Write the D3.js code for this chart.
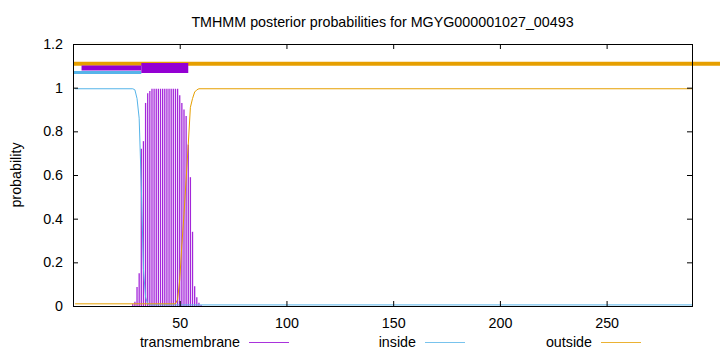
<!DOCTYPE html>
<html>
<head>
<meta charset="utf-8">
<script src="https://d3js.org/d3.v7.min.js"></script>
<style>
body { margin: 0; background: #fff; }
text { font-family: "Liberation Sans", Arial, sans-serif; font-size: 14.3px; fill: #000; }
</style>
</head>
<body>
<div id="chart"></div>
<script>
// residue positions / posterior values
var seqLen = 290;

var insideX = [1, 28, 29, 30, 31, 32, 33, 34, 35, 36, 290];
var insideY = [0.995, 0.995, 0.99, 0.95, 0.86, 0.55, 0.17, 0.04, 0.01, 0.005, 0.005];

var outsideX = [1, 48, 49, 50, 51, 52, 53, 54, 55, 56, 57, 58, 59, 290];
var outsideY = [0.01, 0.01, 0.03, 0.12, 0.28, 0.42, 0.58, 0.74, 0.91, 0.95, 0.98, 0.99, 0.995, 0.995];

var tmFirst = 28;
var tmY = [0.01, 0.02, 0.087, 0.15, 0.72, 0.755, 0.93, 0.975, 0.985,
           0.995, 0.995, 0.995, 0.995, 0.995, 0.995, 0.995, 0.995, 0.995, 0.995, 0.995, 0.995, 0.995,
           0.965, 0.93, 0.9, 0.87, 0.74, 0.59, 0.34, 0.09, 0.04, 0.015, 0.005];

// predicted topology bars drawn above the curves
var segments = [
  {kind: "outside", from: 0, to: 310, level: 1.11, size: 4},
  {kind: "inside", from: 0, to: 32, level: 1.07, size: 3},
  {kind: "transmembrane", from: 4, to: 32, level: 1.09, size: 5},
  {kind: "transmembrane", from: 32, to: 54, level: 1.09, size: 10}
];

var xTicks = [50, 100, 150, 200, 250];
var yTicks = [0, 0.2, 0.4, 0.6, 0.8, 1, 1.2];
var legendNames = ["transmembrane", "inside", "outside"];
var colours = {transmembrane: "#9400d3", inside: "#56b4e9", outside: "#e69f00"};

var W = 720, H = 352;
var margin = {top: 44, right: 28, bottom: 46, left: 73},
    width = W - margin.left - margin.right,
    height = H - margin.top - margin.bottom;

var svg = d3.select("#chart").append("svg")
    .attr("width", W).attr("height", H);

var x = d3.scaleLinear().domain([0, seqLen]).range([0, width]);
var y = d3.scaleLinear().domain([0, 1.2]).range([height, 0]);

var g = svg.append("g")
    .attr("transform", "translate(" + margin.left + "," + margin.top + ")");

// title
svg.append("text")
    .attr("x", margin.left + width / 2).attr("y", 27)
    .attr("text-anchor", "middle")
    .text("TMHMM posterior probabilities for MGYG000001027_00493");

// y label
svg.append("text")
    .attr("transform", "translate(21," + (margin.top + height / 2) + ") rotate(-90)")
    .attr("text-anchor", "middle")
    .text("probability");

// transmembrane impulses
var tmData = tmY.map(function(v, i) { return {r: tmFirst + i, p: v}; });
g.selectAll("line.tm")
    .data(tmData)
  .enter().append("line")
    .attr("class", "tm")
    .attr("x1", function(d) { return x(d.r); })
    .attr("x2", function(d) { return x(d.r); })
    .attr("y1", y(0))
    .attr("y2", function(d) { return y(d.p); })
    .attr("stroke", colours.transmembrane)
    .attr("stroke-opacity", 0.85)
    .attr("stroke-width", 1.3);

var line = d3.line()
    .x(function(d) { return x(d[0]); })
    .y(function(d) { return y(d[1]); });

g.append("path")
    .datum(d3.zip(insideX, insideY))
    .attr("d", line)
    .attr("fill", "none")
    .attr("stroke", colours.inside)
    .attr("stroke-width", 1);

g.append("path")
    .datum(d3.zip(outsideX, outsideY))
    .attr("d", line)
    .attr("fill", "none")
    .attr("stroke", colours.outside)
    .attr("stroke-width", 1);

// topology bars (not clipped, outside runs past the frame)
g.selectAll("line.seg")
    .data(segments)
  .enter().append("line")
    .attr("class", "seg")
    .attr("x1", function(d) { return x(d.from); })
    .attr("x2", function(d) { return x(d.to); })
    .attr("y1", function(d) { return y(d.level); })
    .attr("y2", function(d) { return y(d.level); })
    .attr("stroke", function(d) { return colours[d.kind]; })
    .attr("stroke-width", function(d) { return d.size; });

// axes, gnuplot style: ticks inward and mirrored
var tickLen = 5;
g.append("g")
    .attr("transform", "translate(0," + height + ")")
    .call(d3.axisBottom(x).tickValues(xTicks).tickSizeInner(-tickLen).tickSizeOuter(0).tickPadding(12))
    .call(function(a) { a.select(".domain").remove(); });

g.append("g")
    .call(d3.axisTop(x).tickValues(xTicks).tickSizeInner(-tickLen).tickSizeOuter(0).tickFormat(""))
    .call(function(a) { a.select(".domain").remove(); });

g.append("g")
    .call(d3.axisLeft(y).tickValues(yTicks).tickSizeInner(-tickLen).tickSizeOuter(0).tickPadding(10)
      .tickFormat(function(d) { return d === 0 ? "0" : d3.format("")(+d.toFixed(1)); }))
    .call(function(a) { a.select(".domain").remove(); });

g.append("g")
    .attr("transform", "translate(" + width + ",0)")
    .call(d3.axisRight(y).tickValues(yTicks).tickSizeInner(-tickLen).tickSizeOuter(0).tickFormat(""))
    .call(function(a) { a.select(".domain").remove(); });

g.selectAll(".tick line").attr("stroke", "#000");
svg.selectAll("g").attr("font-family", null).attr("font-size", null);

g.append("rect")
    .attr("x", 0.5).attr("y", 0.5)
    .attr("width", width).attr("height", height)
    .attr("fill", "none")
    .attr("stroke", "#000")
    .attr("stroke-width", 1);

// legend along the bottom
var legendX = [289, 465, 641];
var legend = svg.selectAll("g.key")
    .data(legendNames)
  .enter().append("g")
    .attr("class", "key")
    .attr("transform", function(d, i) { return "translate(" + legendX[i] + ",347)"; });

legend.append("text")
    .attr("x", -49)
    .attr("text-anchor", "end")
    .text(function(d) { return d; });

legend.append("line")
    .attr("x1", -40).attr("x2", 0)
    .attr("y1", -4.5).attr("y2", -4.5)
    .attr("stroke", function(d) { return colours[d]; })
    .attr("stroke-opacity", 0.8)
    .attr("stroke-width", 1);
</script>
</body>
</html>
